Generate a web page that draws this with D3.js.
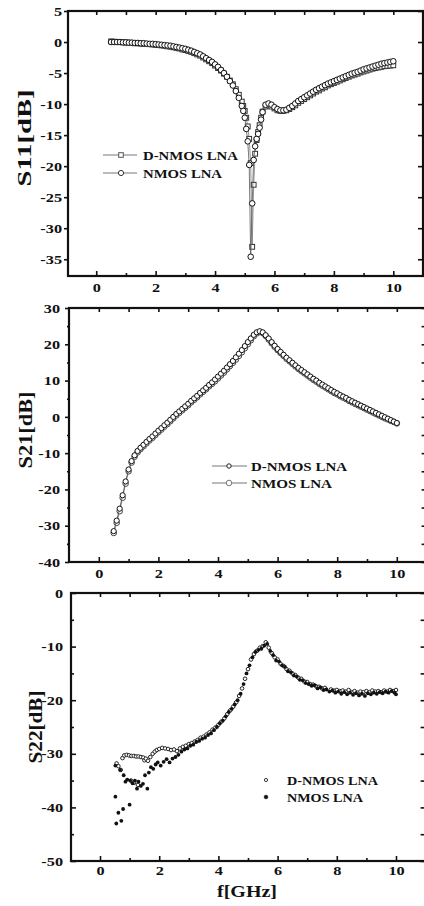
<!DOCTYPE html>
<html>
<head>
<meta charset="utf-8">
<script src="https://cdn.jsdelivr.net/npm/d3@7"></script>
<style>
  body { margin: 0; background: #fff; }
  text { font-family: "Liberation Serif", "Times New Roman", serif; font-weight: bold; fill: #111; }
</style>
</head>
<body>
<script>
// ---- data ----
const seriesNames = ["D-NMOS LNA", "NMOS LNA"];

// S11: frequency grid (finer around the notch)
const fS11 = [0.5,0.6,0.7,0.8,0.9,1.0,1.1,1.2,1.3,1.4,1.5,1.6,1.7,1.8,1.9,2.0,2.1,2.2,2.3,2.4,2.5,2.6,2.7,2.8,2.9,3.0,3.1,3.2,3.3,3.4,3.5,3.6,3.7,3.8,3.9,4.0,4.1,4.2,4.3,4.4,4.5,4.6,4.7,4.8,4.9,
  4.95,5.0,5.05,5.1,5.15,5.2,5.25,5.3,5.35,5.4,5.45,5.5,5.55,5.6,
  5.7,5.8,5.9,6.0,6.1,6.2,6.3,6.4,6.5,6.6,6.7,6.8,6.9,7.0,7.1,7.2,7.3,7.4,7.5,7.6,7.7,7.8,7.9,8.0,8.1,8.2,8.3,8.4,8.5,8.6,8.7,8.8,8.9,9.0,9.1,9.2,9.3,9.4,9.5,9.6,9.7,9.8,9.9,10.0];
const s11DNMOS = [0.1,0.05,0.0,0.0,-0.05,-0.1,-0.1,-0.15,-0.2,-0.2,
  -0.25,-0.3,-0.3,-0.35,-0.4,-0.45,-0.5,-0.55,-0.6,-0.7,
  -0.75,-0.85,-0.95,-1.05,-1.2,-1.3,-1.45,-1.6,-1.8,-2.0,
  -2.2,-2.5,-2.8,-3.1,-3.4,-3.8,-4.2,-4.6,-5.1,-5.6,
  -6.2,-6.8,-7.6,-8.5,-9.6,
  -10.3,-11.1,-12.2,-13.6,-15.6,-19.5,-33.0,-23.0,-18.0,-15.8,-14.5,-13.4,-12.2,-11.2,
  -10.4,-10.2,-10.4,-10.7,-11.0,-11.1,-11.1,-11.0,-10.8,-10.5,
  -10.2,-9.8,-9.5,-9.2,-8.9,-8.6,-8.3,-8.0,-7.8,-7.5,
  -7.3,-7.0,-6.8,-6.6,-6.4,-6.2,-6.0,-5.8,-5.6,-5.4,
  -5.25,-5.1,-4.9,-4.75,-4.6,-4.45,-4.3,-4.2,-4.1,-4.0,
  -3.9,-3.85,-3.8,-3.75];
const s11NMOS = [0.0,0.0,0.0,0.0,-0.05,-0.05,-0.1,-0.1,-0.15,-0.15,
  -0.2,-0.2,-0.25,-0.3,-0.3,-0.35,-0.4,-0.45,-0.5,-0.55,
  -0.6,-0.7,-0.8,-0.9,-1.0,-1.1,-1.25,-1.4,-1.6,-1.8,
  -2.0,-2.3,-2.6,-2.9,-3.2,-3.6,-4.0,-4.5,-5.0,-5.6,
  -6.3,-7.0,-7.9,-9.0,-10.3,
  -11.1,-12.2,-14.0,-16.0,-19.8,-34.6,-26.0,-19.0,-16.8,-15.6,-14.8,-13.8,-12.5,-11.3,
  -10.1,-9.9,-10.1,-10.5,-10.8,-11.0,-11.0,-10.9,-10.6,-10.3,
  -9.9,-9.5,-9.2,-8.9,-8.6,-8.3,-8.0,-7.7,-7.45,-7.2,
  -6.95,-6.7,-6.5,-6.3,-6.1,-5.9,-5.7,-5.5,-5.3,-5.1,
  -4.95,-4.8,-4.6,-4.4,-4.25,-4.1,-3.95,-3.8,-3.65,-3.5,
  -3.4,-3.3,-3.2,-3.1];

// S21
const fS21 = [0.5,0.6,0.7,0.8,0.9,1.0,1.1,1.2,1.3,1.4,1.5,1.6,1.7,1.8,1.9,2.0,2.1,2.2,2.3,2.4,2.5,2.6,2.7,2.8,2.9,3.0,3.1,3.2,3.3,3.4,3.5,3.6,3.7,3.8,3.9,4.0,4.1,4.2,4.3,4.4,4.5,4.6,4.7,4.8,4.9,5.0,5.1,5.2,5.3,5.4,5.5,5.6,5.7,5.8,5.9,6.0,6.1,6.2,6.3,6.4,6.5,6.6,6.7,6.8,6.9,7.0,7.1,7.2,7.3,7.4,7.5,7.6,7.7,7.8,7.9,8.0,8.1,8.2,8.3,8.4,8.5,8.6,8.7,8.8,8.9,9.0,9.1,9.2,9.3,9.4,9.5,9.6,9.7,9.8,9.9,10.0];
const s21DNMOS = [-31.5,-28.6,-25.3,-21.6,-17.8,-14.5,-12.2,-10.6,-9.4,-8.5,
  -7.7,-6.9,-6.1,-5.4,-4.6,-3.8,-3.1,-2.3,-1.6,-0.8,
  0.0,0.8,1.5,2.2,2.9,3.6,4.4,5.1,5.8,6.6,
  7.3,8.0,8.8,9.5,10.3,11.1,11.9,12.7,13.6,14.5,
  15.4,16.4,17.4,18.4,19.5,20.6,21.6,22.6,23.3,23.6,
  23.3,22.5,21.6,20.6,19.6,18.7,17.9,17.1,16.3,15.6,
  14.9,14.2,13.5,12.9,12.3,11.7,11.1,10.5,10.0,9.4,
  8.9,8.4,7.9,7.4,6.9,6.5,6.0,5.6,5.2,4.7,
  4.3,3.9,3.5,3.1,2.7,2.3,1.9,1.5,1.1,0.7,
  0.3,-0.1,-0.5,-0.9,-1.3,-1.7];
const s21NMOS = [-32.0,-29.2,-26.0,-22.3,-18.4,-15.0,-12.6,-11.0,-9.8,-8.9,
  -8.1,-7.3,-6.5,-5.8,-5.0,-4.2,-3.5,-2.7,-2.0,-1.2,
  -0.4,0.4,1.1,1.8,2.5,3.2,4.0,4.7,5.4,6.2,
  6.9,7.6,8.4,9.1,9.8,10.6,11.4,12.2,13.1,14.0,
  14.9,15.8,16.8,17.8,18.9,20.0,21.1,22.2,23.0,23.4,
  23.1,22.3,21.3,20.3,19.3,18.4,17.6,16.8,16.0,15.3,
  14.6,13.9,13.2,12.6,12.0,11.4,10.8,10.2,9.7,9.1,
  8.6,8.1,7.6,7.1,6.6,6.2,5.7,5.3,4.9,4.4,
  4.0,3.6,3.2,2.8,2.4,2.0,1.6,1.2,0.8,0.4,
  0.0,-0.4,-0.7,-1.1,-1.4,-1.8];

// S22 (scattered measurement points, [f, dB])
const s22DNMOS = [[0.56,-31.8],[0.62,-32.3],[0.7,-33.0],[0.76,-30.8],[0.82,-30.3],[0.9,-30.2],[0.98,-30.3],[1.05,-35.0],[1.06,-30.4],[1.14,-30.4],[1.15,-35.4],[1.22,-30.5],[1.28,-35.8],[1.3,-30.5],[1.38,-30.6],[1.46,-30.7],[1.5,-31.2],[1.55,-30.9],[1.62,-31.3],[1.7,-30.6],[1.78,-30.0],[1.85,-29.6],[1.92,-29.3],[2.0,-29.1],[2.1,-28.9],[2.2,-29.0],[2.3,-29.1],[2.4,-29.3],[2.5,-29.2],[2.6,-29.5],[2.7,-29.0],[2.8,-28.7],[2.9,-28.5],[3.0,-28.2],[3.1,-28.0],[3.2,-27.7],[3.3,-27.4],[3.4,-27.0],[3.5,-26.8],[3.6,-26.4],[3.7,-26.0],[3.8,-25.5],[3.9,-25.1],[4.0,-24.6],[4.1,-24.0],[4.2,-23.4],[4.3,-22.6],[4.4,-21.9],[4.5,-21.2],[4.6,-20.4],[4.7,-19.2],[4.8,-17.8],[4.9,-16.0],[5.0,-14.2],[5.1,-12.4],[5.2,-11.4],[5.3,-10.8],[5.4,-10.2],[5.5,-9.9],[5.6,-9.2],[5.7,-10.2],[5.8,-11.2],[5.9,-12.0],[6.0,-12.4],[6.1,-13.2],[6.2,-13.6],[6.3,-14.2],[6.4,-14.5],[6.5,-15.0],[6.6,-15.3],[6.7,-15.8],[6.8,-16.0],[6.9,-16.5],[7.0,-16.6],[7.1,-17.0],[7.2,-17.1],[7.3,-17.4],[7.4,-17.5],[7.5,-17.8],[7.6,-17.7],[7.8,-18.0],[7.9,-18.2],[8.0,-18.1],[8.1,-18.3],[8.2,-18.2],[8.3,-18.4],[8.4,-18.1],[8.5,-18.5],[8.6,-18.3],[8.7,-18.6],[8.8,-18.4],[8.9,-18.5],[9.0,-18.3],[9.1,-18.5],[9.2,-18.2],[9.3,-18.4],[9.4,-18.3],[9.5,-18.5],[9.6,-18.2],[9.7,-18.4],[9.8,-18.1],[9.9,-18.3],[10.0,-18.1]];
const s22NMOS = [[0.52,-32.2],[0.52,-38.0],[0.55,-43.0],[0.62,-41.0],[0.68,-33.0],[0.72,-42.5],[0.78,-40.3],[0.8,-34.0],[0.86,-35.2],[0.92,-34.8],[1.0,-39.5],[1.02,-35.0],[1.1,-35.5],[1.18,-35.0],[1.25,-36.5],[1.3,-35.2],[1.38,-36.0],[1.45,-35.6],[1.52,-34.0],[1.6,-36.5],[1.65,-33.5],[1.72,-32.5],[1.8,-32.8],[1.88,-32.0],[1.95,-31.6],[2.05,-32.2],[2.15,-31.5],[2.25,-31.0],[2.35,-31.6],[2.45,-30.9],[2.55,-30.6],[2.65,-30.2],[2.75,-29.6],[2.85,-29.2],[2.95,-29.0],[3.05,-28.5],[3.15,-28.3],[3.25,-27.8],[3.35,-27.6],[3.45,-27.2],[3.55,-27.0],[3.65,-26.5],[3.75,-26.2],[3.85,-25.6],[3.95,-25.0],[4.05,-24.3],[4.15,-23.8],[4.25,-23.0],[4.35,-22.2],[4.45,-21.6],[4.55,-20.8],[4.65,-20.0],[4.75,-18.8],[4.85,-17.0],[4.95,-15.0],[5.05,-13.5],[5.15,-12.0],[5.25,-11.0],[5.35,-10.6],[5.45,-10.4],[5.55,-9.8],[5.65,-9.5],[5.75,-10.8],[5.85,-11.6],[5.95,-12.6],[6.05,-12.8],[6.15,-13.5],[6.25,-13.8],[6.35,-14.6],[6.45,-14.8],[6.55,-15.4],[6.65,-15.6],[6.75,-16.2],[6.85,-16.3],[6.95,-16.8],[7.05,-17.0],[7.15,-17.3],[7.25,-17.2],[7.35,-17.8],[7.45,-17.6],[7.55,-18.1],[7.65,-18.0],[7.75,-18.4],[7.85,-18.2],[7.95,-18.6],[8.05,-18.4],[8.15,-18.8],[8.25,-18.5],[8.35,-18.9],[8.45,-18.6],[8.55,-19.0],[8.65,-18.7],[8.75,-19.1],[8.85,-18.8],[8.95,-19.2],[9.05,-18.7],[9.15,-18.9],[9.25,-18.6],[9.35,-18.8],[9.45,-18.5],[9.55,-18.7],[9.65,-18.4],[9.75,-18.6],[9.85,-18.3],[9.95,-18.6],[10.0,-18.9]];

// tick values
const xMajor = [0, 2, 4, 6, 8, 10];
const xMinor = [1, 3, 5, 7, 9];
const xTop = [0, 1, 2, 3, 4, 5, 6, 7, 8, 9, 10];
const s11Ticks = [5, 0, -5, -10, -15, -20, -25, -30, -35];
const s21Ticks = [30, 20, 10, 0, -10, -20, -30, -40];
const s21Minor = [25, 15, 5, -5, -15, -25, -35];
const s22Ticks = [0, -10, -20, -30, -40, -50];
const s22Minor = [-5, -15, -25, -35, -45];

const width = 424, height = 906;
const STRETCH = 1.25; // the scanned glyphs are wide
const SERIF = '"Liberation Serif", "Times New Roman", serif';

const svg = d3.select("body").append("svg")
  .attr("width", width).attr("height", height);

function styleTickText(sel) {
  sel.style("font-family", SERIF).style("font-weight", "bold")
    .style("font-size", "13px").style("fill", "#111");
}

function drawPanel(p) {
  const x = d3.scaleLinear().domain(p.xd).range(p.xr);
  const y = d3.scaleLinear().domain(p.yd).range(p.yr);
  const g = svg.append("g");

  // frame
  g.append("rect")
    .attr("x", p.xr[0]).attr("y", p.yr[1])
    .attr("width", p.xr[1] - p.xr[0]).attr("height", p.yr[0] - p.yr[1])
    .attr("fill", "none").attr("stroke", "#111").attr("stroke-width", 2.2);

  const fmt = d => String(d);

  // bottom
  const bot = g.append("g").attr("transform", `translate(0,${p.yr[0]})`)
    .call(d3.axisBottom(x).tickValues(xMajor).tickFormat(fmt).tickSizeInner(-5).tickSizeOuter(0).tickPadding(p.botPad));
  g.append("g").attr("transform", `translate(0,${p.yr[0]})`)
    .call(d3.axisBottom(x).tickValues(xMinor).tickFormat("").tickSizeInner(-3).tickSizeOuter(0));
  // top
  g.append("g").attr("transform", `translate(0,${p.yr[1]})`)
    .call(d3.axisTop(x).tickValues(xTop).tickFormat("").tickSizeInner(-4).tickSizeOuter(0));
  // left
  const left = g.append("g").attr("transform", `translate(${p.xr[0]},0)`)
    .call(d3.axisLeft(y).tickValues(p.yTicks).tickFormat(fmt).tickSizeInner(p.leftIn ? -5 : 4).tickSizeOuter(0));
  if (p.yMinor.length) {
    g.append("g").attr("transform", `translate(${p.xr[0]},0)`)
      .call(d3.axisLeft(y).tickValues(p.yMinor).tickFormat("").tickSizeInner(p.leftIn ? -3 : 2).tickSizeOuter(0));
  }
  // right
  g.append("g").attr("transform", `translate(${p.xr[1]},0)`)
    .call(d3.axisRight(y).tickValues(p.yRight).tickFormat("").tickSizeInner(-5).tickSizeOuter(0));

  g.selectAll(".domain").remove();
  g.selectAll(".tick line").attr("stroke", "#111").attr("stroke-width", 1.6);

  bot.selectAll("text").call(styleTickText)
    .attr("transform", `scale(${STRETCH},1)`);
  left.selectAll("text").call(styleTickText)
    .attr("x", -p.labelGap / STRETCH)
    .attr("transform", `scale(${STRETCH},1)`);

  // y title
  g.append("text")
    .attr("transform", `translate(${p.titleX},${p.titleY}) rotate(-90)`)
    .attr("text-anchor", "middle").attr("dy", "0.35em")
    .attr("textLength", p.titleLen).attr("lengthAdjust", "spacingAndGlyphs")
    .style("font-size", "19px")
    .text(p.title);

  return { g, x, y };
}

function marker(sel, shape, r, stroke, fill) {
  if (shape === "square") {
    sel.append("rect").attr("x", -r).attr("y", -r).attr("width", 2 * r).attr("height", 2 * r)
      .attr("fill", fill).attr("stroke", stroke).attr("stroke-width", 1);
  } else {
    sel.append("circle").attr("r", r).attr("fill", fill).attr("stroke", stroke).attr("stroke-width", 1);
  }
}

function drawSeries(pan, fs, vs, style) {
  const pts = fs.map((f, i) => [f, vs[i]]);
  const line = d3.line().x(d => pan.x(d[0])).y(d => pan.y(d[1]));
  pan.g.append("path").datum(pts).attr("d", line)
    .attr("fill", "none").attr("stroke", style.lineColor).attr("stroke-width", 0.8);
  pan.g.append("g").selectAll("g").data(pts).join("g")
    .attr("transform", d => `translate(${pan.x(d[0])},${pan.y(d[1])})`)
    .each(function () { marker(d3.select(this), style.shape, style.r, style.stroke, "#fff"); });
}

function drawLegend(g, items, lx0, lx1, mx, tx, ys, withLine) {
  items.forEach((it, i) => {
    const row = g.append("g").attr("transform", `translate(0,${ys[i]})`);
    if (withLine) {
      row.append("line").attr("x1", lx0).attr("x2", lx1).attr("y1", 0).attr("y2", 0)
        .attr("stroke", "#777").attr("stroke-width", 1);
    }
    const m = row.append("g").attr("transform", `translate(${mx},0)`);
    if (it.dot) {
      m.append("circle").attr("r", it.r).attr("fill", it.fill).attr("stroke", "#222").attr("stroke-width", 0.9);
    } else {
      marker(m, it.shape, it.r, it.stroke, "#fff");
    }
    row.append("text").attr("x", tx).attr("dy", "0.35em")
      .attr("textLength", it.len).attr("lengthAdjust", "spacingAndGlyphs")
      .style("font-size", "13px").text(it.label);
  });
}

// ---- panel 1: S11 ----
const p1 = drawPanel({
  xd: [-0.95, 11], xr: [68, 423], yd: [-37.7, 5], yr: [276, 11],
  yTicks: s11Ticks, yMinor: [], yRight: s11Ticks, leftIn: false, labelGap: 6, botPad: 7,
  title: "S11[dB]", titleX: 24, titleY: 138, titleLen: 97
});
drawSeries(p1, fS11, s11DNMOS, { shape: "square", r: 2.4, stroke: "#333", lineColor: "#777" });
drawSeries(p1, fS11, s11NMOS, { shape: "circle", r: 2.8, stroke: "#111", lineColor: "#555" });
drawLegend(p1.g, [
  { label: seriesNames[0], shape: "square", r: 2.3, stroke: "#555", len: 95 },
  { label: seriesNames[1], shape: "circle", r: 2.6, stroke: "#333", len: 79 }
], 103, 137, 121, 143, [155, 173], true);

// ---- panel 2: S21 ----
const p2 = drawPanel({
  xd: [-1, 11], xr: [69, 426.6], yd: [-40, 30], yr: [562, 308],
  yTicks: s21Ticks, yMinor: s21Minor, yRight: s21Ticks.concat(s21Minor), leftIn: false, labelGap: 9, botPad: 7,
  title: "S21[dB]", titleX: 25, titleY: 430, titleLen: 77
});
drawSeries(p2, fS21, s21NMOS, { shape: "circle", r: 2.8, stroke: "#444", lineColor: "#777" });
drawSeries(p2, fS21, s21DNMOS, { shape: "circle", r: 2.6, stroke: "#111", lineColor: "#444" });
drawLegend(p2.g, [
  { label: seriesNames[0], shape: "circle", r: 2.2, stroke: "#222", len: 96 },
  { label: seriesNames[1], shape: "circle", r: 2.8, stroke: "#777", len: 81 }
], 212, 247, 229, 251, [466, 483], true);

// ---- panel 3: S22 ----
const p3 = drawPanel({
  xd: [-0.98, 11], xr: [71, 425.6], yd: [-50, 0], yr: [861, 593],
  yTicks: s22Ticks, yMinor: s22Minor, yRight: s22Ticks.concat(s22Minor), leftIn: true, labelGap: 8, botPad: 5,
  title: "S22[dB]", titleX: 35, titleY: 727, titleLen: 73
});
p3.g.append("g").selectAll("circle").data(s22DNMOS).join("circle")
  .attr("cx", d => p3.x(d[0])).attr("cy", d => p3.y(d[1]))
  .attr("r", 1.8).attr("fill", "#fff").attr("stroke", "#222").attr("stroke-width", 1);
p3.g.append("g").selectAll("circle").data(s22NMOS).join("circle")
  .attr("cx", d => p3.x(d[0])).attr("cy", d => p3.y(d[1]))
  .attr("r", 1.9).attr("fill", "#111");
drawLegend(p3.g, [
  { label: seriesNames[0], dot: true, r: 1.6, fill: "#fff", len: 91 },
  { label: seriesNames[1], dot: true, r: 1.8, fill: "#111", len: 76 }
], 0, 0, 266, 287, [780, 797], false);

svg.append("text")
  .attr("x", 247).attr("y", 897).attr("text-anchor", "middle")
  .attr("textLength", 60).attr("lengthAdjust", "spacingAndGlyphs")
  .style("font-size", "17px")
  .text("f[GHz]");
</script>
</body>
</html>
